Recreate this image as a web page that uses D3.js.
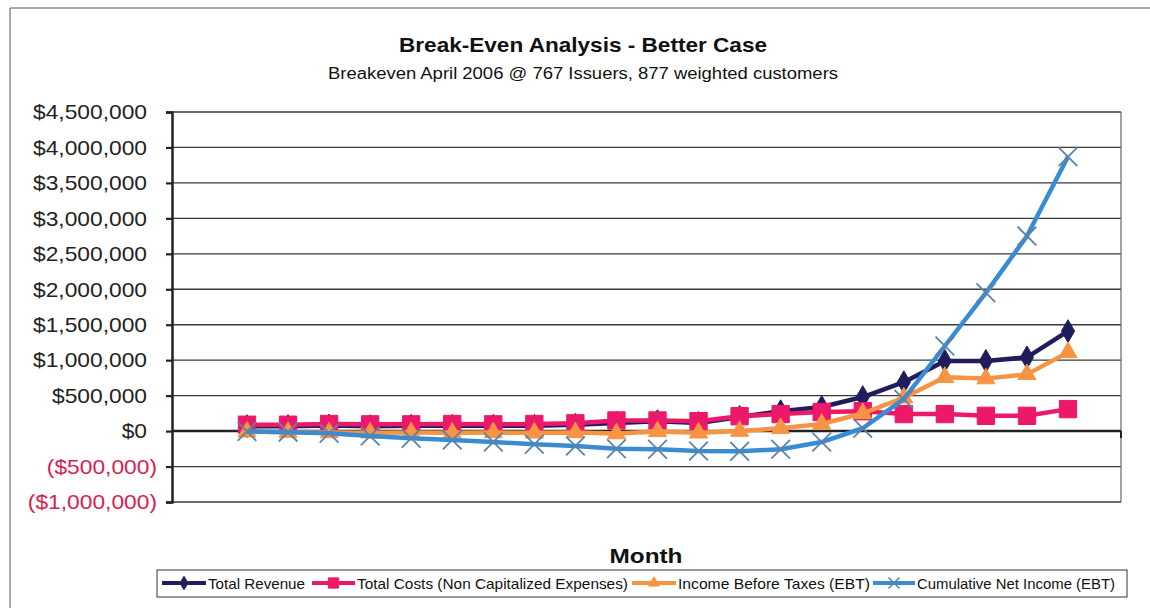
<!DOCTYPE html>
<html>
<head>
<meta charset="utf-8">
<script src="https://cdn.jsdelivr.net/npm/d3@7"></script>
<style>
  body { margin: 0; background: #fff; }
  svg { display: block; font-family: "Liberation Sans", Arial, sans-serif; }
</style>
</head>
<body>
<svg id="chart" width="1150" height="608"></svg>
<script>
// Month index for each plotted period
const months = [1, 2, 3, 4, 5, 6, 7, 8, 9, 10, 11, 12, 13, 14, 15, 16, 17, 18, 19, 20, 21];

// Monthly figures in US dollars
const totalRevenue = [70000, 70000, 80000, 70000, 75000, 75000, 75000, 75000, 90000, 115000, 140000, 115000,
  200000, 280000, 340000, 480000, 690000, 990000, 990000, 1040000, 1410000];
const totalCosts = [90000, 90000, 100000, 95000, 95000, 100000, 95000, 100000, 110000, 150000, 150000, 140000,
  210000, 240000, 270000, 280000, 240000, 240000, 215000, 215000, 310000];
const incomeBeforeTaxes = [-10000, -15000, -20000, -25000, -20000, -25000, -20000, -25000, -20000, -35000, -5000, -25000,
  0, 40000, 100000, 250000, 470000, 760000, 740000, 800000, 1110000];
const cumulativeNetIncome = [-5000, -15000, -30000, -70000, -100000, -125000, -155000, -185000, -210000, -250000, -255000, -280000,
  -285000, -255000, -155000, 40000, 450000, 1200000, 1950000, 2750000, 3870000];

const seriesNames = ["Total Revenue", "Total Costs (Non Capitalized Expenses)", "Income Before Taxes (EBT)", "Cumulative Net Income (EBT)"];
const yTicks = [-1000000, -500000, 0, 500000, 1000000, 1500000, 2000000, 2500000, 3000000, 3500000, 4000000, 4500000];
const yDomain = [-1000000, 4500000];

const chartTitle = "Break-Even Analysis - Better Case";
const chartSubtitle = "Breakeven April 2006 @ 767 Issuers, 877 weighted customers";
const xTitle = "Month";

const svg = d3.select("#chart");

// stretch a text element to a given drawn width
function fitWidth(sel, w) {
  sel.attr("textLength", w).attr("lengthAdjust", "spacingAndGlyphs");
}

// outer chart frame (left and top edges)
svg.append("line").attr("x1", 10).attr("x2", 10).attr("y1", 8).attr("y2", 608).attr("stroke", "#555").attr("stroke-width", 1);
svg.append("line").attr("x1", 10).attr("x2", 1150).attr("y1", 8).attr("y2", 8).attr("stroke", "#555").attr("stroke-width", 1);

const plot = { left: 172, right: 1121, top: 112, bottom: 502 };

const x = d3.scalePoint().domain(months).range([247, 1068]);
const y = d3.scaleLinear().domain(yDomain).range([plot.bottom, plot.top]);

// horizontal gridlines
svg.append("g").selectAll("line").data(yTicks).join("line")
  .attr("x1", plot.left).attr("x2", plot.right)
  .attr("y1", d => y(d)).attr("y2", d => y(d))
  .attr("stroke", "#3a3a3a").attr("stroke-width", 1.3);

// right edge of plot area
svg.append("line").attr("x1", plot.right).attr("x2", plot.right)
  .attr("y1", plot.top).attr("y2", plot.bottom).attr("stroke", "#666").attr("stroke-width", 1.2);

// value axis
const moneyFmt = d3.format("$,.0f");
const yAxis = svg.append("g").attr("transform", `translate(${plot.left},0)`)
  .call(d3.axisLeft(y).tickValues(yTicks).tickSize(6).tickPadding(19)
    .tickFormat(d => d < 0 ? "(" + moneyFmt(-d) + ")" : moneyFmt(d)));
yAxis.select(".domain").attr("stroke", "#222").attr("stroke-width", 2.5);
yAxis.selectAll(".tick line").attr("stroke", "#222").attr("stroke-width", 2.2);
yAxis.selectAll(".tick text")
  .attr("font-size", 21)
  .attr("font-family", "'Liberation Sans', Arial, sans-serif")
  .attr("fill", d => d < 0 ? "#d81e50" : "#222")
  .attr("dx", d => d < 0 ? 10 : 0)
  .each(function () {
    const w = this.getComputedTextLength();
    fitWidth(d3.select(this), w * 1.085);
  });

// category axis at zero
svg.append("line").attr("x1", plot.left).attr("x2", plot.right)
  .attr("y1", y(0)).attr("y2", y(0)).attr("stroke", "#222").attr("stroke-width", 2.5);
svg.append("line").attr("x1", plot.right).attr("x2", plot.right)
  .attr("y1", y(0)).attr("y2", y(0) + 7).attr("stroke", "#222").attr("stroke-width", 2);

// series
const series = [
  { name: seriesNames[0], values: totalRevenue, color: "#1f1d5c", symbol: d3.symbolDiamond, size: 150, stroke: "#1f1d5c", fill: "#1f1d5c" },
  { name: seriesNames[1], values: totalCosts, color: "#ec1869", symbol: d3.symbolSquare, size: 300, stroke: "#ec1869", fill: "#ec1869" },
  { name: seriesNames[2], values: incomeBeforeTaxes, color: "#f79443", symbol: d3.symbolTriangle, size: 140, stroke: "#f79443", fill: "#f79443" },
  { name: seriesNames[3], values: cumulativeNetIncome, color: "#3a8cd2", symbol: d3.symbolTimes, size: 230, stroke: "#5a84aa", fill: "none" }
];

const line = d3.line().x((d, i) => x(months[i])).y(d => y(d));

series.forEach(s => {
  const g = svg.append("g");
  g.append("path").datum(s.values)
    .attr("d", line).attr("fill", "none")
    .attr("stroke", s.color).attr("stroke-width", 4.5).attr("stroke-linejoin", "round");
  g.selectAll("path.mark").data(s.values).join("path").attr("class", "mark")
    .attr("transform", (d, i) => `translate(${x(months[i])},${y(d)})`)
    .attr("d", d3.symbol(s.symbol, s.size))
    .attr("fill", s.fill)
    .attr("stroke", s.stroke)
    .attr("stroke-width", s.fill === "none" ? 1.8 : 1);
});

// titles
fitWidth(svg.append("text").attr("x", 583).attr("y", 52).attr("text-anchor", "middle")
  .attr("font-size", 21).attr("font-weight", "bold").attr("fill", "#111").text(chartTitle), 368);
fitWidth(svg.append("text").attr("x", 583).attr("y", 79).attr("text-anchor", "middle")
  .attr("font-size", 16).attr("fill", "#111").text(chartSubtitle), 510);
fitWidth(svg.append("text").attr("x", 646).attr("y", 563).attr("text-anchor", "middle")
  .attr("font-size", 21).attr("font-weight", "bold").attr("fill", "#111").text(xTitle), 73);

// legend
const legend = svg.append("g");
legend.append("rect").attr("x", 157).attr("y", 570).attr("width", 970).attr("height", 27)
  .attr("fill", "#fff").attr("stroke", "#333").attr("stroke-width", 1);
const legendItems = [
  { sx: 162, tx: 208, tw: 97 },
  { sx: 312, tx: 357, tw: 271 },
  { sx: 632, tx: 678, tw: 192 },
  { sx: 873, tx: 917, tw: 198 }
];
series.forEach((s, k) => {
  const it = legendItems[k];
  const ly = 583;
  legend.append("line").attr("x1", it.sx).attr("x2", it.tx - 2).attr("y1", ly).attr("y2", ly)
    .attr("stroke", s.color).attr("stroke-width", 4);
  legend.append("path").attr("transform", `translate(${(it.sx + it.tx - 2) / 2},${ly})`)
    .attr("d", d3.symbol(s.symbol, s.size * 0.35))
    .attr("fill", s.fill).attr("stroke", s.stroke).attr("stroke-width", s.fill === "none" ? 1.5 : 1);
  fitWidth(legend.append("text").attr("x", it.tx).attr("y", ly + 6)
    .attr("font-size", 15).attr("fill", "#111").text(s.name), it.tw);
});
</script>
</body>
</html>
